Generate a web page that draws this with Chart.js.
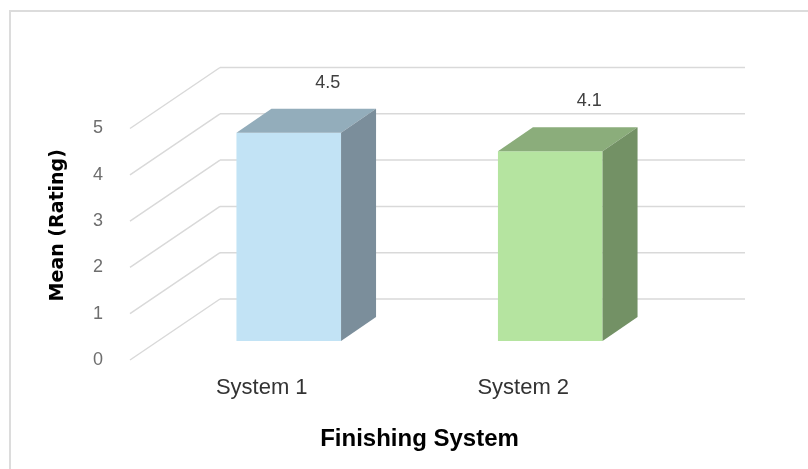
<!DOCTYPE html>
<html><head><meta charset="utf-8">
<script src="https://cdn.jsdelivr.net/npm/chart.js@4"></script>
<style>html,body{margin:0;padding:0;background:#fff}#wrap{position:relative;width:808px;height:469px}</style>
</head><body><div id="wrap"><canvas id="c" width="808" height="469"></canvas></div>
<script>
const categories = ['System 1', 'System 2'];
const meanRatings = [4.5, 4.1];
const valueLabels = ['4.5', '4.1'];
const yTickValues = [0, 1, 2, 3, 4, 5];
const frontColors = ['#C2E3F5', '#B5E4A0'];
const sideColors = ['#7B8E9B', '#739165'];
const topColors = ['#93ADBB', '#8BAD7B'];

const DEPTH = {dx: 35, dy: -24};
const WALL = {dx: 62, dy: -42};
const FLOOR = {dx: -28, dy: 19};

const framePlugin = {
  id: 'frame',
  beforeDraw(chart) {
    const ctx = chart.ctx;
    ctx.save();
    ctx.strokeStyle = '#DCDCDC';
    ctx.lineWidth = 2;
    ctx.beginPath();
    ctx.moveTo(10, 480); ctx.lineTo(10, 11); ctx.lineTo(820, 11);
    ctx.stroke();
    ctx.restore();
  }
};

const wallPlugin = {
  id: 'wall3d',
  beforeDatasetsDraw(chart) {
    const ctx = chart.ctx, ys = chart.scales.y, a = chart.chartArea;
    const wallL = a.left + WALL.dx, wallR = a.right + 64;
    ctx.save();
    ctx.strokeStyle = '#D9D9D9';
    ctx.lineWidth = 1.5;
    yTickValues.forEach(v => {
      const yf = ys.getPixelForValue(v);
      ctx.beginPath();
      ctx.moveTo(wallL, yf + WALL.dy); ctx.lineTo(wallR, yf + WALL.dy);
      ctx.stroke();
      ctx.beginPath();
      ctx.moveTo(a.left + FLOOR.dx, yf + FLOOR.dy); ctx.lineTo(wallL, yf + WALL.dy);
      ctx.stroke();
    });
    ctx.restore();
  },
  afterDatasetsDraw(chart) {
    const ctx = chart.ctx;
    const meta = chart.getDatasetMeta(0);
    ctx.save();
    meta.data.forEach((bar, i) => {
      const {x, y, base, width} = bar.getProps(['x', 'y', 'base', 'width'], true);
      const l = x - width / 2, r = x + width / 2;
      ctx.fillStyle = topColors[i];
      ctx.beginPath();
      ctx.moveTo(l, y); ctx.lineTo(r, y); ctx.lineTo(r + DEPTH.dx, y + DEPTH.dy); ctx.lineTo(l + DEPTH.dx, y + DEPTH.dy);
      ctx.closePath(); ctx.fill();
      ctx.fillStyle = sideColors[i];
      ctx.beginPath();
      ctx.moveTo(r, y); ctx.lineTo(r + DEPTH.dx, y + DEPTH.dy); ctx.lineTo(r + DEPTH.dx, base + DEPTH.dy); ctx.lineTo(r, base);
      ctx.closePath(); ctx.fill();
      ctx.fillStyle = '#404040';
      ctx.font = '18px "Liberation Sans", Arial, sans-serif';
      ctx.textAlign = 'center';
      ctx.textBaseline = 'middle';
      ctx.fillText(valueLabels[i], x + 39, y - 50);
    });
    ctx.restore();
  }
};

new Chart(document.getElementById('c'), {
  type: 'bar',
  data: {
    labels: categories,
    datasets: [{
      data: meanRatings,
      backgroundColor: frontColors,
      borderWidth: 0,
      barPercentage: 0.4,
      categoryPercentage: 1
    }]
  },
  options: {
    responsive: false,
    animation: false,
    devicePixelRatio: 1,
    layout: {padding: {left: 0, top: 109.5, right: 127, bottom: 0}},
    plugins: {legend: {display: false}, tooltip: {enabled: false}},
    scales: {
      x: {
        grid: {display: false, drawTicks: false},
        border: {display: false},
        ticks: {
          padding: 34, labelOffset: -27, color: '#333333',
          font: {family: '"Liberation Sans", Arial, sans-serif', size: 22}
        },
        title: {
          display: true, text: 'Finishing System', color: '#000000',
          padding: {top: 0, bottom: 15},
          font: {family: '"Liberation Sans", Arial, sans-serif', size: 24, weight: 'bold'}
        },
        afterFit(scale) { scale.height = 128; }
      },
      y: {
        min: 0, max: 5,
        grid: {display: false, drawTicks: false},
        border: {display: false},
        ticks: {
          stepSize: 1, padding: 55, labelOffset: 19, color: '#6E6E6E',
          font: {family: '"Liberation Sans", Arial, sans-serif', size: 18}
        },
        title: {
          display: true, text: 'Mean (Rating)', color: '#000000',
          padding: {top: 47, bottom: 0},
          font: {family: '"DejaVu Sans", Verdana, sans-serif', size: 19, weight: 'bold'}
        },
        afterFit(scale) { scale.width = 158; }
      }
    }
  },
  plugins: [framePlugin, wallPlugin]
});
</script>
</body></html>
